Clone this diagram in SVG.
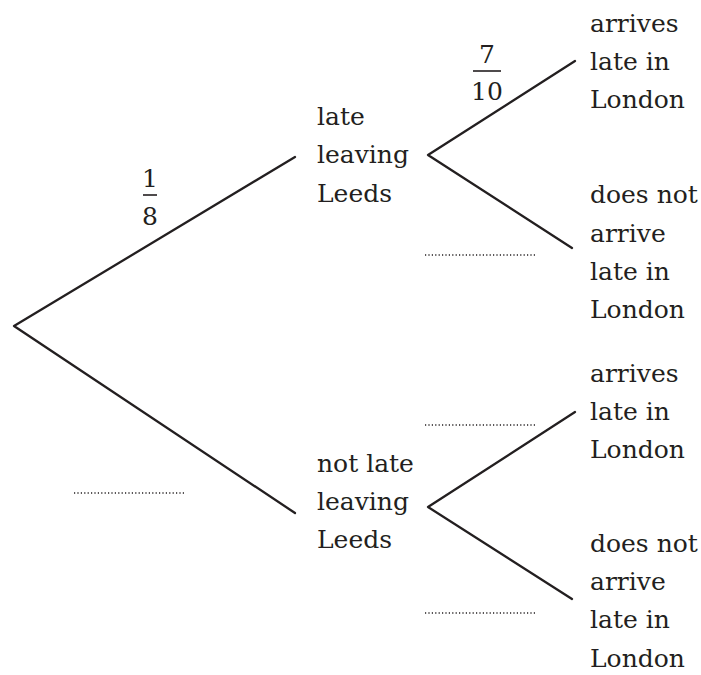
<svg xmlns="http://www.w3.org/2000/svg" width="701" height="675" viewBox="0 0 701 675">
<style>
.t{font-family:"DejaVu Serif",serif;font-size:25px;fill:#231f20}
.frac{text-anchor:middle}
.br{stroke:#231f20;stroke-width:2.3;fill:none;stroke-linecap:round;stroke-linejoin:round}
.bar{stroke:#231f20;stroke-width:1.6}
.dot{stroke:#231f20;stroke-width:1.3;stroke-dasharray:1.2 2.2}
</style>
<rect width="701" height="675" fill="#fff"/>
<g id="connectors">
<polyline class="br" points="295,157 14,326 295,513"/>
<polyline class="br" points="575,61 428,155 572,248"/>
<polyline class="br" points="575,412 428,507 572,599"/>
</g>
<g id="prob-1-8" class="t">
<text class="frac" x="150" y="187">1</text>
<line class="bar" x1="143" y1="195" x2="157" y2="195"/>
<text class="frac" x="150" y="225">8</text>
</g>
<g id="prob-7-10" class="t">
<text class="frac" x="487" y="63">7</text>
<line class="bar" x1="473" y1="71" x2="501" y2="71"/>
<text class="frac" x="487" y="100">10</text>
</g>
<g id="blanks">
<line class="dot" x1="74" y1="493" x2="185" y2="493"/>
<line class="dot" x1="425" y1="255" x2="535" y2="255"/>
<line class="dot" x1="425" y1="425" x2="535" y2="425"/>
<line class="dot" x1="425" y1="613" x2="535" y2="613"/>
</g>
<g id="late-leaving" class="t">
<text x="317" y="125">late</text>
<text x="317" y="163">leaving</text>
<text x="317" y="202">Leeds</text>
</g>
<g id="not-late-leaving" class="t">
<text x="317" y="472">not late</text>
<text x="317" y="510">leaving</text>
<text x="317" y="548">Leeds</text>
</g>
<g id="arrives-late-1" class="t">
<text x="590" y="32">arrives</text>
<text x="590" y="70">late in</text>
<text x="590" y="108">London</text>
</g>
<g id="not-arrive-late-1" class="t">
<text x="590" y="203">does not</text>
<text x="590" y="242">arrive</text>
<text x="590" y="280">late in</text>
<text x="590" y="318">London</text>
</g>
<g id="arrives-late-2" class="t">
<text x="590" y="382">arrives</text>
<text x="590" y="420">late in</text>
<text x="590" y="458">London</text>
</g>
<g id="not-arrive-late-2" class="t">
<text x="590" y="552">does not</text>
<text x="590" y="590">arrive</text>
<text x="590" y="628">late in</text>
<text x="590" y="667">London</text>
</g>
</svg>
